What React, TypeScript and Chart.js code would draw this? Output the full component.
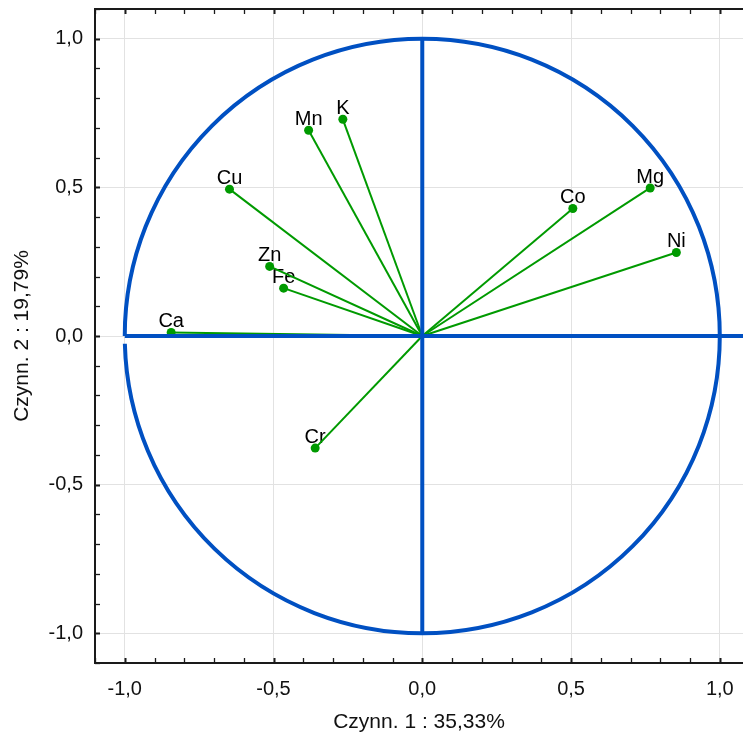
import React, { useEffect, useRef } from 'react';
import { Chart, registerables } from 'chart.js';

Chart.register(...registerables);

const variables = ['Ca', 'Cu', 'Mn', 'K', 'Zn', 'Fe', 'Co', 'Mg', 'Ni', 'Cr'];
const factor1 = [-0.844, -0.648, -0.382, -0.267, -0.513, -0.466, 0.506, 0.766, 0.854, -0.36];
const factor2 = [0.012, 0.494, 0.692, 0.729, 0.234, 0.161, 0.429, 0.498, 0.281, -0.377];
const majorTicks = [-1.0, -0.5, 0, 0.5, 1.0];
const tickLabels = ['-1,0', '-0,5', '0,0', '0,5', '1,0'];
const xTitle = 'Czynn. 1 : 35,33%';
const yTitle = 'Czynn. 2 : 19,79%';

const X_MIN = -1.1;
const X_MAX = 1.078;
const Y_MIN = -1.1;
const Y_MAX = 1.1;

const BLUE = '#0050C2';
const GREEN = '#009A00';
const FONT = '"Liberation Sans", Arial, sans-serif';

const decorPlugin = {
  id: 'decor',
  beforeDatasetsDraw(chart: any) {
    const { ctx, chartArea, scales } = chart;
    const x = scales.x;
    const y = scales.y;
    ctx.save();
    ctx.beginPath();
    ctx.rect(chartArea.left, chartArea.top, chartArea.right - chartArea.left, chartArea.bottom - chartArea.top);
    ctx.clip();
    const cx = x.getPixelForValue(0);
    const cy = y.getPixelForValue(0);
    const rx = x.getPixelForValue(1) - cx;
    const ry = cy - y.getPixelForValue(1);
    ctx.strokeStyle = BLUE;
    ctx.lineWidth = 4;
    ctx.beginPath();
    ctx.ellipse(cx, cy, rx, ry, 0, Math.PI, 3 * Math.PI - 0.026, false);
    ctx.stroke();
    // labels
    ctx.fillStyle = '#000';
    ctx.font = `20px ${FONT}`;
    ctx.textAlign = 'center';
    ctx.textBaseline = 'alphabetic';
    variables.forEach((name, i) => {
      const px = x.getPixelForValue(factor1[i]);
      const py = y.getPixelForValue(factor2[i]);
      ctx.fillText(name, px, py - 5);
    });
    ctx.restore();
  },
  afterDraw(chart: any) {
    const { ctx, chartArea, scales } = chart;
    const x = scales.x;
    const y = scales.y;
    const { left, right, top, bottom } = chartArea;
    ctx.save();
    ctx.strokeStyle = '#1a1a1a';
    ctx.lineWidth = 2;
    ctx.beginPath();
    ctx.moveTo(left, top);
    ctx.lineTo(right, top);
    ctx.moveTo(left, top - 1);
    ctx.lineTo(left, bottom + 1);
    ctx.moveTo(left, bottom);
    ctx.lineTo(right, bottom);
    ctx.stroke();
    const isMajor = (v: number) => Math.abs(v * 2 - Math.round(v * 2)) < 1e-6;
    for (let i = -11; i <= 10; i++) {
      const v = i / 10;
      const px = Math.round(x.getPixelForValue(v)) + 0.5;
      ctx.lineWidth = isMajor(v) ? 2 : 1.3;
      ctx.beginPath();
      ctx.moveTo(px, bottom);
      ctx.lineTo(px, bottom - 5);
      ctx.moveTo(px, top);
      ctx.lineTo(px, top + 5);
      ctx.stroke();
    }
    for (let i = -11; i <= 11; i++) {
      const v = i / 10;
      const py = Math.round(y.getPixelForValue(v)) + 0.5;
      ctx.lineWidth = isMajor(v) ? 2 : 1.3;
      ctx.beginPath();
      ctx.moveTo(left, py);
      ctx.lineTo(left + 5, py);
      ctx.stroke();
    }
    ctx.restore();
  },
};

export default function App() {
  const ref = useRef<HTMLCanvasElement>(null);

  useEffect(() => {
    if (!ref.current) return;
    const vectorSets = variables.map((name, i) => ({
      label: name,
      data: [
        { x: 0, y: 0 },
        { x: factor1[i], y: factor2[i] },
      ],
      showLine: true,
      borderColor: GREEN,
      backgroundColor: GREEN,
      borderWidth: 2,
      pointRadius: [0, 4.5],
      pointHoverRadius: [0, 4.5],
      pointBackgroundColor: GREEN,
      pointBorderWidth: 0,
      order: 2,
    }));
    const axisSets = [
      {
        label: 'axis-h',
        data: [
          { x: -1, y: 0 },
          { x: X_MAX, y: 0 },
        ],
        showLine: true,
        borderColor: BLUE,
        borderWidth: 4,
        pointRadius: 0,
        pointHoverRadius: 0,
        order: 1,
      },
      {
        label: 'axis-v',
        data: [
          { x: 0, y: -1 },
          { x: 0, y: 1 },
        ],
        showLine: true,
        borderColor: BLUE,
        borderWidth: 4,
        pointRadius: 0,
        pointHoverRadius: 0,
        order: 1,
      },
    ];

    const chart = new Chart(ref.current, {
      type: 'scatter',
      data: { datasets: [...axisSets, ...vectorSets] as any },
      options: {
        responsive: false,
        animation: false,
        events: [],
        layout: { autoPadding: false, padding: { top: 9, left: 0, right: 0, bottom: 0 } },
        plugins: {
          legend: { display: false },
          tooltip: { enabled: false },
        },
        scales: {
          x: {
            type: 'linear',
            min: X_MIN,
            max: X_MAX,
            afterBuildTicks: (s: any) => {
              s.ticks = majorTicks.map((v) => ({ value: v }));
            },
            afterFit: (s: any) => {
              s.height = 75;
              s.paddingLeft = 0;
              s.paddingRight = 0;
              s.paddingTop = 0;
              s.paddingBottom = 0;
            },
            ticks: {
              callback: (_v: any, i: number) => tickLabels[i],
              font: { family: FONT, size: 20 },
              color: '#111',
              padding: 14,
              maxRotation: 0,
              autoSkip: false,
            },
            grid: { color: '#e2e2e2', lineWidth: 1, drawTicks: false },
            border: { display: false },
            title: {
              display: true,
              text: xTitle,
              font: { family: FONT, size: 21 },
              color: '#111',
              padding: { top: 0, bottom: 3 },
            },
          },
          y: {
            type: 'linear',
            min: Y_MIN,
            max: Y_MAX,
            afterBuildTicks: (s: any) => {
              s.ticks = majorTicks.map((v) => ({ value: v }));
            },
            afterFit: (s: any) => {
              s.width = 95;
              s.paddingLeft = 0;
              s.paddingRight = 0;
              s.paddingTop = 0;
              s.paddingBottom = 0;
            },
            ticks: {
              callback: (_v: any, i: number) => tickLabels[i],
              font: { family: FONT, size: 20 },
              color: '#111',
              padding: 12,
              autoSkip: false,
            },
            grid: { color: '#e2e2e2', lineWidth: 1, drawTicks: false },
            border: { display: false },
            title: {
              display: true,
              text: yTitle,
              font: { family: FONT, size: 21 },
              color: '#111',
              padding: { top: 10, bottom: 0 },
            },
          },
        },
      } as any,
      plugins: [decorPlugin],
    });
    return () => chart.destroy();
  }, []);

  return (
    <canvas
      ref={ref}
      width={743}
      height={738}
      style={{ position: 'absolute', left: 0, top: 0, width: 743, height: 738 }}
    />
  );
}
